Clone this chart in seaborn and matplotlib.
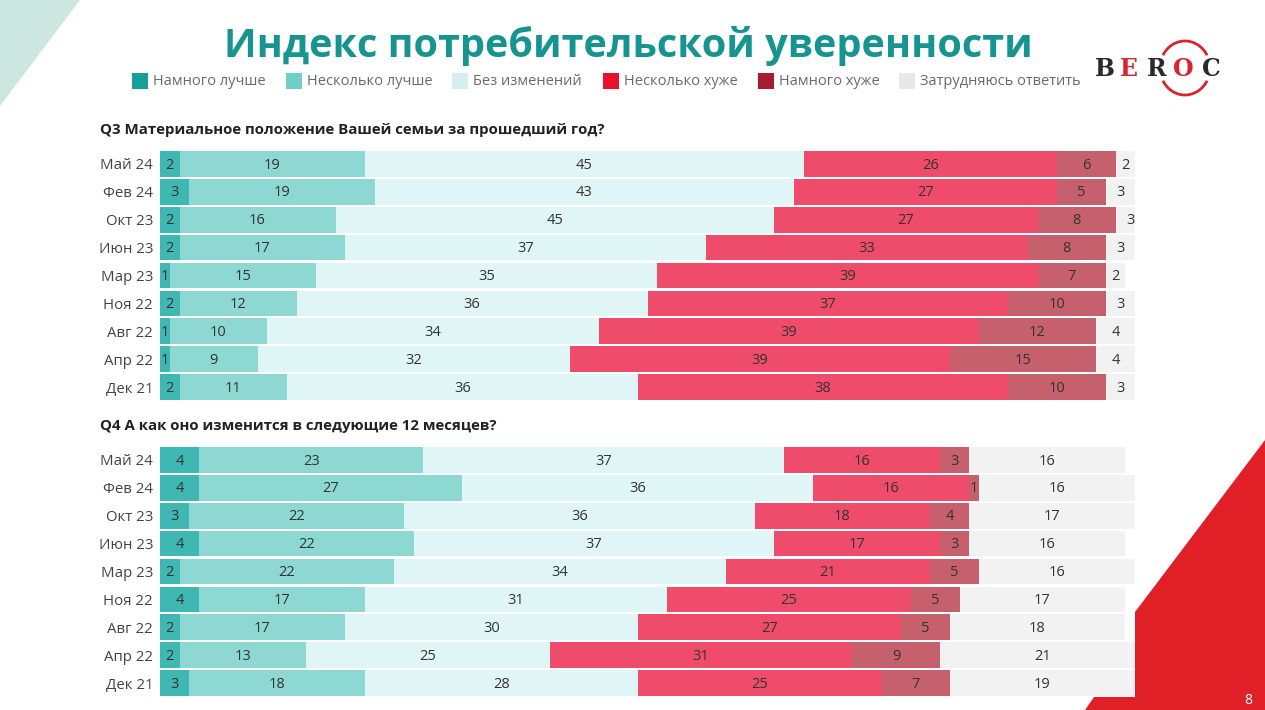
import numpy as np
import pandas as pd
import matplotlib
matplotlib.use("Agg")
import matplotlib.pyplot as plt
from matplotlib.patches import Polygon, Rectangle, Arc
import seaborn as sns

# ---------------- data ----------------
periods = ["Май 24", "Фев 24", "Окт 23", "Июн 23", "Мар 23", "Ноя 22", "Авг 22", "Апр 22", "Дек 21"]
categories = ["Намного лучше", "Несколько лучше", "Без изменений",
              "Несколько хуже", "Намного хуже", "Затрудняюсь ответить"]

q3_much_better = [2, 3, 2, 2, 1, 2, 1, 1, 2]
q3_better      = [19, 19, 16, 17, 15, 12, 10, 9, 11]
q3_same        = [45, 43, 45, 37, 35, 36, 34, 32, 36]
q3_worse       = [26, 27, 27, 33, 39, 37, 39, 39, 38]
q3_much_worse  = [6, 5, 8, 8, 7, 10, 12, 15, 10]
q3_dk          = [2, 3, 3, 3, 2, 3, 4, 4, 3]

q4_much_better = [4, 4, 3, 4, 2, 4, 2, 2, 3]
q4_better      = [23, 27, 22, 22, 22, 17, 17, 13, 18]
q4_same        = [37, 36, 36, 37, 34, 31, 30, 25, 28]
q4_worse       = [16, 16, 18, 17, 21, 25, 27, 31, 25]
q4_much_worse  = [3, 1, 4, 3, 5, 5, 5, 9, 7]
q4_dk          = [16, 16, 17, 16, 16, 17, 18, 21, 19]

title = "Индекс потребительской уверенности"
q3_title = "Q3 Материальное положение Вашей семьи за прошедший год?"
q4_title = "Q4 А как оно изменится в следующие 12 месяцев?"

# ---------------- style ----------------
bar_colors = ["#3FB7B2", "#8ED8D3", "#E0F5F5", "#EE4C6A", "#C7606D", "#F2F2F2"]
legend_colors = ["#17A09B", "#6ECFCA", "#D5EFF1", "#E8112D", "#A51C30", "#E8E8E8"]

sns.set_theme(style="white")
plt.rcParams["font.family"] = ["Open Sans", "DejaVu Sans"]

W, H = 1265, 710
fig = plt.figure(figsize=(W / 100, H / 100), dpi=100)
fig.patch.set_facecolor("white")

# decoration overlay in pixel coordinates
deco = fig.add_axes([0, 0, 1, 1], zorder=0)
deco.set_xlim(0, W)
deco.set_ylim(H, 0)
deco.axis("off")
deco.add_patch(Polygon([(0, 0), (80, 0), (0, 106)], closed=True, color="#CBE7E0", lw=0))
deco.add_patch(Polygon([(1265, 440), (1135, 612), (1135, 697), (1094, 697), (1085, 710), (1265, 710)],
                       closed=True, color="#E11F26", lw=0))
deco.text(1248, 701, "8", color="white", fontsize=10, ha="center", va="center")

# logo
logo_letters = ["B", "E", "R", "O", "C"]
logo_x = [1105, 1129, 1157, 1183, 1211]
logo_c = ["#2A2A2A", "#D9232E", "#2A2A2A", "#D9232E", "#2A2A2A"]
for ch, lx, lc in zip(logo_letters, logo_x, logo_c):
    deco.text(lx, 69, ch, color=lc, fontsize=17, fontweight="bold",
              family="DejaVu Serif", ha="center", va="center")
deco.add_patch(Arc((1185, 68), 50, 54, theta1=30, theta2=150, color="#D9232E", lw=2))
deco.add_patch(Arc((1185, 68), 50, 54, theta1=210, theta2=330, color="#D9232E", lw=2))

# title
deco.text(628, 46, title, color="#16948F", fontsize=28.5, fontweight="bold",
          ha="center", va="center")

# legend (manual row)
leg_sw_x = [132, 286, 452, 603, 758, 899]
for lx, lc, lab in zip(leg_sw_x, legend_colors, categories):
    deco.add_patch(Rectangle((lx, 73), 16, 16, color=lc, lw=0))
    deco.text(lx + 21, 81.5, lab, color="#6A6A6A", fontsize=10.5, ha="left", va="center")

# panel titles
deco.text(100, 130, q3_title, color="#222222", fontsize=10.8, fontweight="bold", ha="left", va="center")
deco.text(100, 426, q4_title, color="#222222", fontsize=10.8, fontweight="bold", ha="left", va="center")


def draw_panel(ax, series):
    df = pd.DataFrame({"period": periods})
    arr = np.array(series, dtype=float)          # 6 x 9
    cum = np.cumsum(arr, axis=0)
    # draw from the largest cumulative total down so earlier segments overlay later ones
    for i in range(len(series) - 1, -1, -1):
        df["val"] = cum[i]
        sns.barplot(data=df, x="val", y="period", order=periods, orient="h",
                    color=bar_colors[i], saturation=1, width=0.92, ax=ax,
                    edgecolor="none", linewidth=0)
    for i in range(len(series)):
        start = cum[i] - arr[i]
        for j in range(len(periods)):
            ax.text(start[j] + arr[i][j] / 2, j + 0.04, f"{int(arr[i][j])}", ha="center", va="center",
                    color="#333333", fontsize=10.5)
    ax.set_xlim(0, 100)
    ax.set_ylim(8.5, -0.5)
    ax.set_xlabel("")
    ax.set_ylabel("")
    ax.set_xticks([])
    ax.tick_params(axis="y", length=0, pad=5, labelsize=10.8, labelcolor="#444444")
    for s in ax.spines.values():
        s.set_visible(False)
    ax.set_facecolor("none")


left = 160 / W
width = 975 / W
ax3 = fig.add_axes([left, 1 - 401 / H, width, 251 / H], zorder=1)
ax4 = fig.add_axes([left, 1 - 697 / H, width, 251 / H], zorder=1)

draw_panel(ax3, [q3_much_better, q3_better, q3_same, q3_worse, q3_much_worse, q3_dk])
draw_panel(ax4, [q4_much_better, q4_better, q4_same, q4_worse, q4_much_worse, q4_dk])

fig.savefig("out.png", dpi=100, facecolor="white")
